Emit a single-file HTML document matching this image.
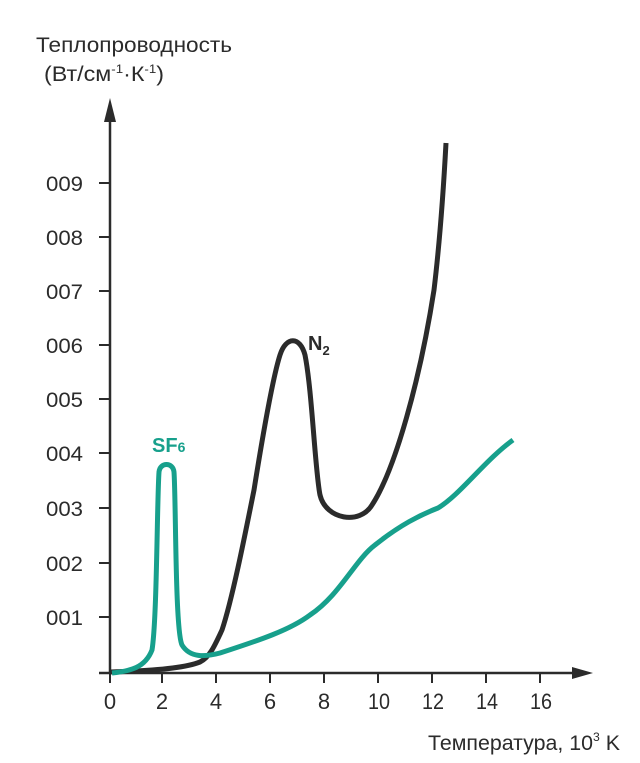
<!DOCTYPE html>
<html><head><meta charset="utf-8"><style>
body{margin:0;background:#fff}
svg text{font-family:"Liberation Sans",sans-serif;fill:#2b2b2b}
</style></head><body>
<svg width="640" height="758" viewBox="0 0 640 758" xmlns="http://www.w3.org/2000/svg">
<text x="36" y="52" font-size="21" textLength="196" lengthAdjust="spacingAndGlyphs">Теплопроводность</text>
<text x="44" y="81" font-size="21" textLength="120" lengthAdjust="spacingAndGlyphs">(Вт/см<tspan font-size="12" dy="-8">-1</tspan><tspan dy="8">·К</tspan><tspan font-size="12" dy="-8">-1</tspan><tspan dy="8">)</tspan></text>
<g stroke="#2b2b2b" stroke-width="2.5" fill="none">
<line x1="110" y1="110" x2="110" y2="674"/>
<line x1="99" y1="673" x2="575" y2="673"/>
<g stroke-width="2">
<line x1="99" y1="183" x2="110" y2="183"/><line x1="99" y1="237" x2="110" y2="237"/>
<line x1="99" y1="291" x2="110" y2="291"/><line x1="99" y1="345" x2="110" y2="345"/>
<line x1="99" y1="399" x2="110" y2="399"/><line x1="99" y1="453" x2="110" y2="453"/>
<line x1="99" y1="508" x2="110" y2="508"/><line x1="99" y1="563" x2="110" y2="563"/>
<line x1="99" y1="617" x2="110" y2="617"/>
<line x1="162" y1="673" x2="162" y2="683"/><line x1="216" y1="673" x2="216" y2="683"/>
<line x1="270" y1="673" x2="270" y2="683"/><line x1="324" y1="673" x2="324" y2="683"/>
<line x1="378" y1="673" x2="378" y2="683"/><line x1="432" y1="673" x2="432" y2="683"/>
<line x1="486" y1="673" x2="486" y2="683"/><line x1="540" y1="673" x2="540" y2="683"/>
<line x1="110" y1="673" x2="110" y2="683"/>
</g></g>
<polygon points="104,122 116,122 110,98" fill="#2b2b2b"/>
<polygon points="572,667 572,679 593,673" fill="#2b2b2b"/>
<g font-size="21" text-anchor="end">
<text x="83" y="191" textLength="37" lengthAdjust="spacingAndGlyphs">009</text><text x="83" y="245" textLength="37" lengthAdjust="spacingAndGlyphs">008</text><text x="83" y="299" textLength="37" lengthAdjust="spacingAndGlyphs">007</text>
<text x="83" y="353" textLength="37" lengthAdjust="spacingAndGlyphs">006</text><text x="83" y="407" textLength="37" lengthAdjust="spacingAndGlyphs">005</text><text x="83" y="461" textLength="37" lengthAdjust="spacingAndGlyphs">004</text>
<text x="83" y="516" textLength="37" lengthAdjust="spacingAndGlyphs">003</text><text x="83" y="571" textLength="37" lengthAdjust="spacingAndGlyphs">002</text><text x="83" y="625" textLength="37" lengthAdjust="spacingAndGlyphs">001</text>
</g>
<g font-size="22" text-anchor="middle">
<text x="110" y="709">0</text><text x="162" y="709">2</text><text x="216" y="709">4</text>
<text x="270" y="709">6</text><text x="324" y="709">8</text><text x="379" y="709" textLength="22" lengthAdjust="spacingAndGlyphs">10</text>
<text x="433" y="709" textLength="22" lengthAdjust="spacingAndGlyphs">12</text><text x="487" y="709" textLength="22" lengthAdjust="spacingAndGlyphs">14</text><text x="541" y="709" textLength="22" lengthAdjust="spacingAndGlyphs">16</text>
</g>
<text x="428" y="750" font-size="21" textLength="192" lengthAdjust="spacingAndGlyphs">Температура, 10<tspan font-size="12" dy="-9">3</tspan><tspan dy="9"> K</tspan></text>
<path d="M111,672 C150,671 185,668 200,662 C210,657 215,645 222,630 C232,600 244,540 254,490 C262,440 272,380 280,355 C286,336 300,336 305,355 C312,390 315,470 320,495 C326,520 360,525 372,505 C395,470 420,380 434,290 C440,240 444,180 446,143" fill="none" stroke="#2b2b2b" stroke-width="5"/>
<path d="M112,673 C130,671 145,668 152,650 C157,620 157,500 159,472 C160,462 173,462 174,472 C176,500 175,630 182,645 C190,658 205,657 220,653 C260,640 290,630 310,615 C340,595 355,560 375,545 C400,525 420,515 438,508 C460,495 485,460 513,440" fill="none" stroke="#17a08c" stroke-width="5"/>
<text x="308" y="350" font-size="20" font-weight="bold">N<tspan font-size="13" dy="5">2</tspan></text>
<text x="152" y="452" font-size="20" font-weight="bold" style="fill:#17a08c">SF<tspan font-size="14">6</tspan></text>
</svg>
</body></html>
